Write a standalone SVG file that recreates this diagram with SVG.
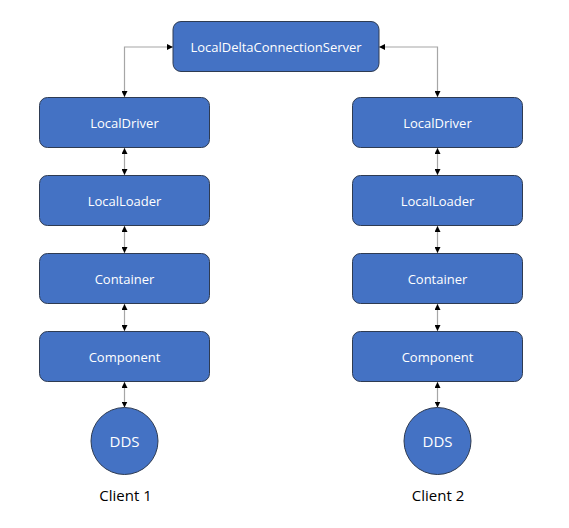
<svg xmlns="http://www.w3.org/2000/svg" width="569" height="528" viewBox="0 0 569 528">
<defs>
<style>
.box{fill:#4472C4;stroke:#2E3B52;stroke-width:1}
.lbl{fill:#ffffff;font-family:"Open Sans","Noto Sans",sans-serif;font-size:13px;text-anchor:middle;dominant-baseline:central}
.dds{fill:#ffffff;font-family:"Open Sans","Noto Sans",sans-serif;font-size:15px;text-anchor:middle;dominant-baseline:central}
.cap{fill:#000000;font-family:"Open Sans","Noto Sans",sans-serif;font-size:15px;text-anchor:middle}
.con{fill:none;stroke:#A6A6A6;stroke-width:1.2;marker-start:url(#arr);marker-end:url(#arr)}
</style>
<marker id="arr" viewBox="0 0 10 10" refX="10" refY="5" markerWidth="6" markerHeight="6" markerUnits="userSpaceOnUse" orient="auto-start-reverse">
<path d="M0,0 L10,5 L0,10 z" fill="#000000"/>
</marker>
</defs>
<rect width="569" height="528" fill="#ffffff"/>
<g id="connectors">
<path class="con" d="M173,47 H124.5 V97"/>
<path class="con" d="M379,47 H437.5 V97"/>
<path class="con" d="M124.5,148 V175"/>
<path class="con" d="M124.5,226 V253"/>
<path class="con" d="M124.5,304 V331"/>
<path class="con" d="M124.5,382 V407.5"/>
<path class="con" d="M437.5,148 V175"/>
<path class="con" d="M437.5,226 V253"/>
<path class="con" d="M437.5,304 V331"/>
<path class="con" d="M437.5,382 V407.5"/>
</g>
<g id="server"><rect class="box" x="173" y="21.5" width="206" height="50" rx="8"/><text class="lbl" x="276" y="47">LocalDeltaConnectionServer</text></g>
<g id="driver1"><rect class="box" x="39.5" y="97.5" width="170" height="50" rx="8"/><text class="lbl" x="124.5" y="123">LocalDriver</text></g>
<g id="loader1"><rect class="box" x="39.5" y="175.5" width="170" height="50" rx="8"/><text class="lbl" x="124.5" y="201">LocalLoader</text></g>
<g id="container1"><rect class="box" x="39.5" y="253.5" width="170" height="50" rx="8"/><text class="lbl" x="124.5" y="279">Container</text></g>
<g id="component1"><rect class="box" x="39.5" y="331.5" width="170" height="50" rx="8"/><text class="lbl" x="124.5" y="357">Component</text></g>
<g id="dds1"><circle class="box" cx="124.5" cy="441" r="33.5"/><text class="dds" x="124.5" y="441">DDS</text></g>
<g id="driver2"><rect class="box" x="352.5" y="97.5" width="170" height="50" rx="8"/><text class="lbl" x="437.5" y="123">LocalDriver</text></g>
<g id="loader2"><rect class="box" x="352.5" y="175.5" width="170" height="50" rx="8"/><text class="lbl" x="437.5" y="201">LocalLoader</text></g>
<g id="container2"><rect class="box" x="352.5" y="253.5" width="170" height="50" rx="8"/><text class="lbl" x="437.5" y="279">Container</text></g>
<g id="component2"><rect class="box" x="352.5" y="331.5" width="170" height="50" rx="8"/><text class="lbl" x="437.5" y="357">Component</text></g>
<g id="dds2"><circle class="box" cx="437.5" cy="441" r="33.5"/><text class="dds" x="437.5" y="441">DDS</text></g>
<text class="cap" x="125.5" y="501">Client 1</text>
<text class="cap" x="438" y="501">Client 2</text>
</svg>
